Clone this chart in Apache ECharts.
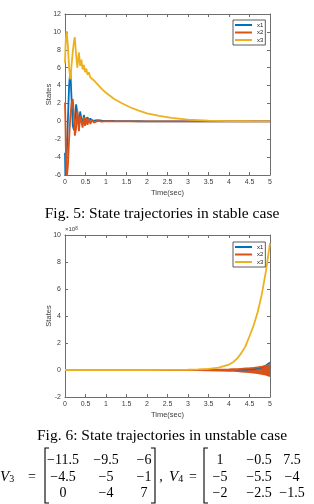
<!DOCTYPE html>
<html>
<head>
<meta charset="utf-8">
<script src="https://cdn.jsdelivr.net/npm/echarts@6/dist/echarts.min.js"></script>
<style>
  html, body { margin: 0; padding: 0; background: #fff; }
  #chart { width: 314px; height: 504px; }
</style>
</head>
<body>
<div id="chart"></div>
<script>
// Fig. 5 - stable case
const tStable = [0, 0.01, 0.02, 0.04, 0.07, 0.1, 0.13, 0.16, 0.19, 0.22, 0.24, 0.27, 0.3, 0.34, 0.37, 0.4, 0.43, 0.46, 0.49, 0.52, 0.55, 0.58, 0.62, 0.66, 0.7, 0.8, 0.9, 1.0, 1.2, 1.4, 1.6, 1.8, 2.0, 2.3, 2.6, 3.0, 3.5, 4.0, 4.5, 5.0];
const x1Stable = [-3.5, -6.5, -6.5, -4, 0, 4, 5.7, 2.5, -0.5, -1.0, 0, 1.9, 1.0, -0.5, 1.1, 0.2, -0.2, 0.7, 0.1, -0.1, 0.45, 0.05, 0.3, 0.05, 0.2, 0.12, 0.08, 0.06, 0.04, 0.03, 0.02, 0.01, 0, 0, 0, 0, 0, 0, 0, 0];
const x2Stable = [2.1, 0, -3, -6.5, -5, -2, 0.5, 2.0, 2.5, 0.5, -1.6, -0.8, 1.2, -1.1, 0.6, 0.8, -0.7, 0.5, -0.5, 0.4, -0.4, 0.3, -0.3, 0.2, -0.15, 0.05, -0.03, 0.02, 0, 0, 0, 0, 0, 0, 0, 0, 0, 0, 0, 0];
const x3Stable = [6.5, 8.0, 9.2, 10.1, 8.5, 6.0, 4.7, 6.3, 7.8, 9.0, 9.4, 7.5, 6.0, 7.7, 6.2, 6.9, 5.8, 6.3, 5.5, 5.9, 5.2, 5.5, 4.9, 5.0, 4.6, 4.1, 3.6, 3.2, 2.5, 2.0, 1.55, 1.2, 0.9, 0.6, 0.38, 0.18, 0.07, 0.03, 0.01, 0];

// Fig. 6 - unstable case (values in units of 1e8)
const tUnstable = [0, 0.5, 1, 1.5, 2, 2.5, 3, 3.25, 3.5, 3.75, 4, 4.1, 4.2, 4.3, 4.4, 4.5, 4.6, 4.7, 4.8, 4.9, 5];
const x1Unstable = [0, 0, 0, 0, 0, 0, 0, 0, 0, 0, 0, 0, 0, 0, 0.02, 0.04, 0.07, 0.12, 0.2, 0.33, 0.55];
const x2UnstableHigh = [0, 0, 0, 0, 0, 0, 0.005, 0.01, 0.02, 0.03, 0.05, 0.06, 0.07, 0.09, 0.11, 0.13, 0.16, 0.2, 0.24, 0.3, 0.38];
const x2UnstableLow = [0, 0, 0, 0, 0, 0, -0.005, -0.01, -0.02, -0.04, -0.06, -0.07, -0.09, -0.11, -0.13, -0.16, -0.19, -0.23, -0.28, -0.35, -0.45];
const x3Unstable = [0, 0, 0, 0, 0, 0.01, 0.02, 0.04, 0.08, 0.17, 0.4, 0.58, 0.85, 1.25, 1.75, 2.5, 3.3, 4.3, 5.6, 7.3, 9.4];

const stateNames = ["x1", "x2", "x3"];
const V3 = [["\u221211.5", "\u22129.5", "\u22126"], ["\u22124.5", "\u22125", "\u22121"], ["0", "\u22124", "7"]];
const V4 = [["1", "\u22120.5", "7.5"], ["\u22125", "\u22125.5", "\u22124"], ["\u22122", "\u22122.5", "\u22121.5"]];

const blue = "#0072BD", red = "#D95319", gold = "#EDB120";
const axisGray = "#6e6e6e";
const labelColor = "#3c3c3c";

function zip(t, v) {
  return t.map(function(x, i) { return [x, v[i]]; });
}

function xAx(grid, pos, showLabel) {
  return {
    type: "value", gridIndex: grid, position: pos, min: 0, max: 5, interval: 0.5,
    axisLine: { show: true, onZero: false, lineStyle: { color: axisGray, width: 1 } },
    axisTick: { show: true, inside: true, length: 3, lineStyle: { color: axisGray } },
    axisLabel: { show: showLabel, fontSize: 7, color: labelColor, margin: 4, fontFamily: "Liberation Sans" },
    splitLine: { show: false },
    name: showLabel ? "Time(sec)" : "",
    nameLocation: "middle", nameGap: 14, nameMoveOverlap: false,
    nameTextStyle: { fontSize: 7.5, color: labelColor, fontFamily: "Liberation Sans" }
  };
}

function yAx(grid, pos, min, max, showLabel) {
  return {
    type: "value", gridIndex: grid, position: pos, min: min, max: max, interval: 2,
    axisLine: { show: true, onZero: false, lineStyle: { color: axisGray, width: 1 } },
    axisTick: { show: true, inside: true, length: 3, lineStyle: { color: axisGray } },
    axisLabel: { show: showLabel, fontSize: 7, color: labelColor, margin: 4, fontFamily: "Liberation Sans" },
    splitLine: { show: false },
    name: showLabel ? "States" : "",
    nameLocation: "middle", nameGap: 12, nameMoveOverlap: false,
    nameTextStyle: { fontSize: 7.5, color: labelColor, fontFamily: "Liberation Sans" }
  };
}

function lineSeries(name, color, xi, yi, data, extra) {
  let s = {
    name: name, type: "line", xAxisIndex: xi, yAxisIndex: yi,
    data: data, showSymbol: false, symbol: "none", animation: false,
    itemStyle: { color: color },
    lineStyle: { color: color, width: 1.8 }
  };
  return Object.assign(s, extra || {});
}

function legendAt(top) {
  return {
    orient: "vertical", left: 233, top: top,
    data: stateNames, icon: "rect", itemWidth: 17, itemHeight: 2, itemGap: 1.5,
    padding: [2, 2, 2, 2],
    borderColor: "#333", borderWidth: 0.8, backgroundColor: "#fff",
    textStyle: { fontSize: 6, color: "#222", fontFamily: "Liberation Sans" },
    selectedMode: false
  };
}

const serif = "Liberation Serif";
const capFont = "15.5px '" + serif + "'";
const matFont = "14px '" + serif + "'";

function matrixTexts(m, colX, rowY) {
  let out = [];
  m.forEach(function(row, r) {
    row.forEach(function(cell, c) {
      out.push({
        type: "text", x: colX[c], y: rowY[r],
        style: { text: cell, font: matFont, fill: "#000", textAlign: "center", textVerticalAlign: "middle" }
      });
    });
  });
  return out;
}

function bracket(x, top, bottom, dir) {
  return {
    type: "polyline",
    shape: { points: [[x + 4 * dir, top], [x, top], [x, bottom], [x + 4 * dir, bottom]] },
    style: { stroke: "#000", lineWidth: 1.1, fill: null }
  };
}

function plainText(str, x, y, align) {
  return { type: "text", x: x, y: y,
    style: { text: str, font: matFont, fill: "#000", textAlign: align, textVerticalAlign: "middle" } };
}

function subV(sub, x, y) {
  return { type: "text", x: x, y: y,
    style: { text: "{v|V}{s|" + sub + "}", textVerticalAlign: "middle",
      rich: { v: { fontSize: 15, fontStyle: "italic", fontFamily: serif, fill: "#000" },
              s: { fontSize: 10, fontFamily: serif, fill: "#000", verticalAlign: "bottom" } } } };
}

const rowY = [460, 477, 493];

let graphics = [
  { type: "text", x: 65, y: 229,
    style: { text: "{a|\u00d710}{b|8}", textVerticalAlign: "middle",
      rich: { a: { fontSize: 6, fill: labelColor, fontFamily: "Liberation Sans" },
              b: { fontSize: 4.5, fill: labelColor, verticalAlign: "top", fontFamily: "Liberation Sans" } } } },
  { type: "text", x: 162, y: 214,
    style: { text: "Fig. 5: State trajectories in stable case", font: capFont, fill: "#000", textAlign: "center", textVerticalAlign: "middle" } },
  { type: "text", x: 162, y: 436,
    style: { text: "Fig. 6: State trajectories in unstable case", font: capFont, fill: "#000", textAlign: "center", textVerticalAlign: "middle" } },
  subV("3", 0, 477),
  plainText("=", 32, 477, "center"),
  plainText(",", 161, 477, "center"),
  subV("4", 169, 477),
  plainText("=", 193, 477, "center"),
  bracket(45, 448, 503, 1),
  bracket(155, 448, 503, -1),
  bracket(204, 448, 503, 1)
];
graphics = graphics.concat(matrixTexts(V3, [63, 106, 144], rowY));
graphics = graphics.concat(matrixTexts(V4, [220, 259, 292], rowY));

let chart = echarts.init(document.getElementById("chart"), null, { renderer: "canvas" });

let option = {
  animation: false,
  backgroundColor: "#fff",
  grid: [
    { left: 65, top: 14, width: 205, height: 161 },
    { left: 65, top: 235, width: 205, height: 162 }
  ],
  xAxis: [xAx(0, "bottom", true), xAx(0, "top", false), xAx(1, "bottom", true), xAx(1, "top", false)],
  yAxis: [yAx(0, "left", -6, 12, true), yAx(0, "right", -6, 12, false), yAx(1, "left", -2, 10, true), yAx(1, "right", -2, 10, false)],
  legend: [legendAt(20), legendAt(242)],
  series: [
    lineSeries("x1", blue, 0, 0, zip(tStable, x1Stable)),
    lineSeries("x2", red, 0, 0, zip(tStable, x2Stable)),
    lineSeries("x3", gold, 0, 0, zip(tStable, x3Stable)),
    lineSeries("x1", blue, 2, 2, zip(tUnstable, x1Unstable)),
    lineSeries("x2", red, 2, 2, zip(tUnstable, x2UnstableHigh), { areaStyle: { color: red, opacity: 1 } }),
    lineSeries("x2", red, 2, 2, zip(tUnstable, x2UnstableLow), { areaStyle: { color: red, opacity: 1 } }),
    lineSeries("x3", gold, 2, 2, zip(tUnstable, x3Unstable))
  ],
  graphic: graphics
};

chart.setOption(option);
</script>
</body>
</html>
